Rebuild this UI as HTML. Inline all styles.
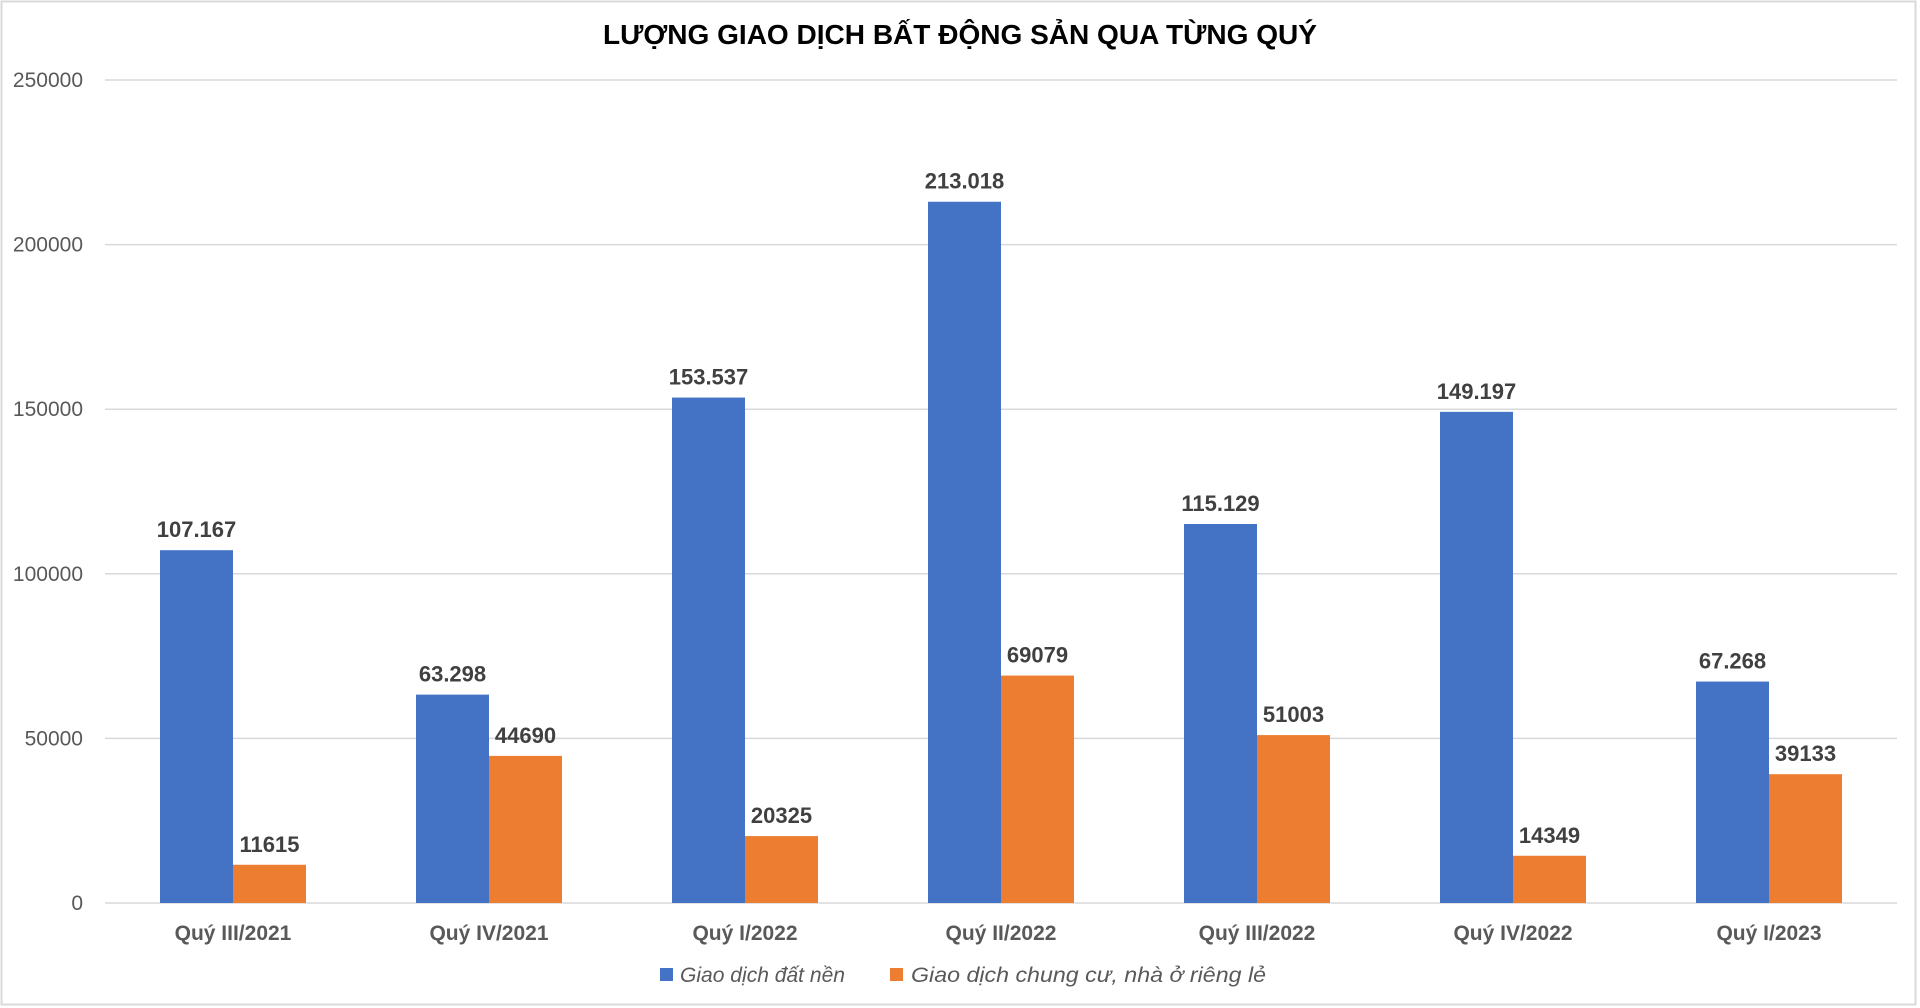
<!DOCTYPE html>
<html><head><meta charset="utf-8"><style>
html,body{margin:0;padding:0;background:#fff;}
svg{display:block;font-family:"Liberation Sans",sans-serif;}
</style></head><body>
<svg width="1920" height="1008" viewBox="0 0 1920 1008" xmlns="http://www.w3.org/2000/svg">
<rect x="1.5" y="1.5" width="1914" height="1003" fill="#fff" stroke="#d9d9d9" stroke-width="2"/>
<text x="960" y="44" text-anchor="middle" font-size="28" font-weight="bold" fill="#000" textLength="714" lengthAdjust="spacingAndGlyphs">LƯỢNG GIAO DỊCH BẤT ĐỘNG SẢN QUA TỪNG QUÝ</text>
<g stroke="#d9d9d9" stroke-width="1.5">
<line x1="105" x2="1897" y1="80" y2="80"/>
<line x1="105" x2="1897" y1="244.6" y2="244.6"/>
<line x1="105" x2="1897" y1="409.2" y2="409.2"/>
<line x1="105" x2="1897" y1="573.8" y2="573.8"/>
<line x1="105" x2="1897" y1="738.4" y2="738.4"/>
<line x1="105" x2="1897" y1="903" y2="903"/>
</g>
<g font-size="21" fill="#595959" text-anchor="end">
<text x="83" y="87">250000</text>
<text x="83" y="251.6">200000</text>
<text x="83" y="416.2">150000</text>
<text x="83" y="580.8">100000</text>
<text x="83" y="745.4">50000</text>
<text x="83" y="910">0</text>
</g>
<g id="bars"></g>
<g font-size="21" fill="#595959" font-weight="bold" text-anchor="middle" id="cats"></g>
<g id="labels" font-size="22" font-weight="bold" fill="#404040" text-anchor="middle"></g>
<rect x="660" y="968" width="13" height="13" fill="#4472c4"/>
<text x="680" y="982" font-size="21" font-style="italic" fill="#595959" textLength="165" lengthAdjust="spacingAndGlyphs">Giao dịch đất nền</text>
<rect x="890" y="968" width="13" height="13" fill="#ed7d31"/>
<text x="911" y="982" font-size="21" font-style="italic" fill="#595959" textLength="355" lengthAdjust="spacingAndGlyphs">Giao dịch chung cư, nhà ở riêng lẻ</text>
</svg>
<script>
var blue=[107167,63298,153537,213018,115129,149197,67268],bl=["107.167","63.298","153.537","213.018","115.129","149.197","67.268"];
var or=[11615,44690,20325,69079,51003,14349,39133];
var cats=["Quý III/2021","Quý IV/2021","Quý I/2022","Quý II/2022","Quý III/2022","Quý IV/2022","Quý I/2023"];
var ns="http://www.w3.org/2000/svg";
function el(p,t,a,tx){var e=document.createElementNS(ns,t);for(var k in a)e.setAttribute(k,a[k]);if(tx)e.textContent=tx;document.getElementById(p).appendChild(e);}
for(var i=0;i<7;i++){var c=233+256*i;
var yb=903-blue[i]*823/250000,yo=903-or[i]*823/250000;
el("bars","rect",{x:c-73,y:yb,width:73,height:903-yb,fill:"#4472c4"});
el("bars","rect",{x:c,y:yo,width:73,height:903-yo,fill:"#ed7d31"});
el("labels","text",{x:c-36.5,y:yb-13},bl[i]);
el("labels","text",{x:c+36.5,y:yo-13},String(or[i]));
el("cats","text",{x:c,y:940},cats[i]);}
</script>
</body></html>
